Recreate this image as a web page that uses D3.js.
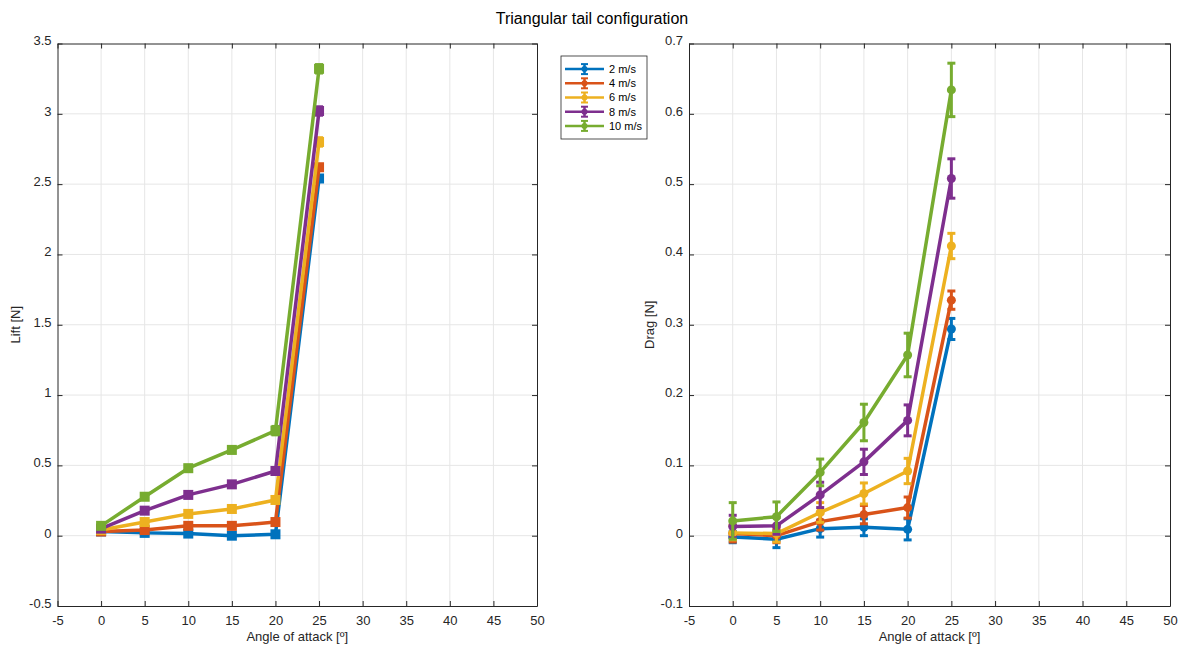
<!DOCTYPE html>
<html>
<head>
<meta charset="utf-8">
<script src="https://cdn.jsdelivr.net/npm/d3@7"></script>
<style>
  body { margin: 0; background: #fff; }
  svg { font-family: "Liberation Sans", Arial, sans-serif; }
</style>
</head>
<body>
<div id="chart"></div>
<script>
const angles = [0, 5, 10, 15, 20, 25];
const speeds = ["2 m/s", "4 m/s", "6 m/s", "8 m/s", "10 m/s"];
const colors = ["#0072BD", "#D95319", "#EDB120", "#7E2F8E", "#77AC30"];

const liftMean = [
    [0.03, 0.02, 0.015, 0.0, 0.01, 2.54],
    [0.03, 0.04, 0.07, 0.07, 0.097, 2.62],
    [0.04, 0.097, 0.155, 0.19, 0.254, 2.80],
    [0.05, 0.178, 0.29, 0.365, 0.46, 3.02],
    [0.07, 0.277, 0.48, 0.61, 0.747, 3.32]
];
const liftErr = [
    [0.01, 0.01, 0.01, 0.01, 0.02, 0.02],
    [0.01, 0.01, 0.01, 0.01, 0.02, 0.02],
    [0.01, 0.01, 0.01, 0.01, 0.02, 0.03],
    [0.01, 0.01, 0.01, 0.01, 0.02, 0.03],
    [0.02, 0.02, 0.02, 0.02, 0.03, 0.03]
];
const dragMean = [
    [-0.002, -0.005, 0.01, 0.012, 0.009, 0.294],
    [0.003, 0.0, 0.02, 0.03, 0.04, 0.335],
    [0.004, 0.003, 0.033, 0.06, 0.092, 0.412],
    [0.013, 0.014, 0.058, 0.105, 0.164, 0.508],
    [0.021, 0.027, 0.09, 0.161, 0.257, 0.634]
];
const dragErr = [
    [0.008, 0.012, 0.012, 0.012, 0.015, 0.015],
    [0.012, 0.01, 0.012, 0.013, 0.015, 0.013],
    [0.01, 0.012, 0.014, 0.015, 0.018, 0.018],
    [0.016, 0.012, 0.018, 0.018, 0.022, 0.028],
    [0.026, 0.021, 0.019, 0.026, 0.031, 0.038]
];

const xTicks = [-5, 0, 5, 10, 15, 20, 25, 30, 35, 40, 45, 50];
const liftTicks = [-0.5, 0, 0.5, 1, 1.5, 2, 2.5, 3, 3.5];
const dragTicks = [-0.1, 0, 0.1, 0.2, 0.3, 0.4, 0.5, 0.6, 0.7];

const width = 1185;
const height = 646;
const axisColor = "#262626";
const gridColor = "#e6e6e6";

const svg = d3.select("#chart").append("svg")
    .attr("width", width)
    .attr("height", height);

svg.append("text")
    .attr("x", 592)
    .attr("y", 24)
    .attr("text-anchor", "middle")
    .style("font-size", "16px")
    .attr("fill", "#000")
    .text("Triangular tail configuration");

function drawPanel(opts) {
    const { left, right, top, bottom, yTicks, means, errs, marker, yLabel, yLabelX } = opts;

    const x = d3.scaleLinear().domain([-5, 50]).range([left, right]);
    const y = d3.scaleLinear().domain([yTicks[0], yTicks[yTicks.length - 1]]).range([bottom, top]);

    const g = svg.append("g");

    // grid
    g.append("g").selectAll("line")
        .data(xTicks.slice(1, -1))
        .enter().append("line")
        .attr("x1", d => x(d)).attr("x2", d => x(d))
        .attr("y1", top).attr("y2", bottom)
        .attr("stroke", gridColor).attr("stroke-width", 1);
    g.append("g").selectAll("line")
        .data(yTicks.slice(1, -1))
        .enter().append("line")
        .attr("x1", left).attr("x2", right)
        .attr("y1", d => y(d)).attr("y2", d => y(d))
        .attr("stroke", gridColor).attr("stroke-width", 1);

    // axes (MATLAB style: ticks inside, box)
    const xAxisB = g.append("g")
        .attr("transform", `translate(0,${bottom})`)
        .call(d3.axisBottom(x).tickValues(xTicks).tickSizeInner(-5).tickSizeOuter(0).tickPadding(10)
            .tickFormat(d => String(d)));
    const xAxisT = g.append("g")
        .attr("transform", `translate(0,${top})`)
        .call(d3.axisTop(x).tickValues(xTicks).tickSizeInner(-5).tickSizeOuter(0).tickFormat(""));
    const yAxisL = g.append("g")
        .attr("transform", `translate(${left},0)`)
        .call(d3.axisLeft(y).tickValues(yTicks).tickSizeInner(-5).tickSizeOuter(0).tickPadding(6)
            .tickFormat(d => String(d)));
    const yAxisR = g.append("g")
        .attr("transform", `translate(${right},0)`)
        .call(d3.axisRight(y).tickValues(yTicks).tickSizeInner(-5).tickSizeOuter(0).tickFormat(""));

    [xAxisB, xAxisT, yAxisL, yAxisR].forEach(a => {
        a.select(".domain").attr("stroke", axisColor).attr("stroke-width", 1);
        a.selectAll(".tick line").attr("stroke", axisColor);
        a.selectAll("text").attr("fill", axisColor).style("font-size", "13px")
            .style("font-family", "'Liberation Sans', Arial, sans-serif");
    });
    yAxisL.selectAll(".tick text").attr("dy", "0.1em");

    g.append("text")
        .attr("x", (left + right) / 2)
        .attr("y", 641)
        .attr("text-anchor", "middle")
        .attr("fill", axisColor)
        .style("font-size", "13px")
        .text("Angle of attack [º]");

    g.append("text")
        .attr("transform", `translate(${yLabelX},${(top + bottom) / 2}) rotate(-90)`)
        .attr("text-anchor", "middle")
        .attr("fill", axisColor)
        .style("font-size", "13px")
        .text(yLabel);

    const line = d3.line().x(d => x(d.a)).y(d => y(d.v));

    speeds.forEach((s, i) => {
        const pts = angles.map((a, j) => ({ a, v: means[i][j], e: errs[i][j] }));
        const sg = g.append("g").attr("class", "series");

        sg.append("path")
            .datum(pts)
            .attr("d", line)
            .attr("fill", "none")
            .attr("stroke", colors[i])
            .attr("stroke-width", 3.5)
            .attr("stroke-linejoin", "round");

        // error bars
        const eb = sg.append("g").selectAll("g")
            .data(pts)
            .enter().append("g");
        eb.append("line")
            .attr("x1", d => x(d.a)).attr("x2", d => x(d.a))
            .attr("y1", d => y(d.v - d.e)).attr("y2", d => y(d.v + d.e))
            .attr("stroke", colors[i]).attr("stroke-width", 3);
        eb.append("line")
            .attr("x1", d => x(d.a) - 4).attr("x2", d => x(d.a) + 4)
            .attr("y1", d => y(d.v - d.e)).attr("y2", d => y(d.v - d.e))
            .attr("stroke", colors[i]).attr("stroke-width", 3);
        eb.append("line")
            .attr("x1", d => x(d.a) - 4).attr("x2", d => x(d.a) + 4)
            .attr("y1", d => y(d.v + d.e)).attr("y2", d => y(d.v + d.e))
            .attr("stroke", colors[i]).attr("stroke-width", 3);

        if (marker === "square") {
            sg.append("g").selectAll("rect")
                .data(pts)
                .enter().append("rect")
                .attr("x", d => x(d.a) - 5)
                .attr("y", d => y(d.v) - 5)
                .attr("width", 10).attr("height", 10)
                .attr("fill", colors[i]);
        } else {
            sg.append("g").selectAll("circle")
                .data(pts)
                .enter().append("circle")
                .attr("cx", d => x(d.a))
                .attr("cy", d => y(d.v))
                .attr("r", 4.5)
                .attr("fill", colors[i]);
        }
    });
}

drawPanel({
    left: 57.5, right: 537, top: 43.5, bottom: 606,
    yTicks: liftTicks, means: liftMean, errs: liftErr,
    marker: "square", yLabel: "Lift [N]", yLabelX: 20
});

drawPanel({
    left: 689, right: 1170, top: 43.5, bottom: 606,
    yTicks: dragTicks, means: dragMean, errs: dragErr,
    marker: "circle", yLabel: "Drag [N]", yLabelX: 654
});

// legend
const legend = svg.append("g").attr("transform", "translate(561,56)");
legend.append("rect")
    .attr("width", 86).attr("height", 83)
    .attr("fill", "#fff")
    .attr("stroke", axisColor).attr("stroke-width", 0.8);

const legendRow = d3.scaleBand().domain(speeds).range([6, 77]);

speeds.forEach((s, i) => {
    const cy = legendRow(s) + legendRow.bandwidth() / 2;
    const item = legend.append("g");
    item.append("line")
        .attr("x1", 4).attr("x2", 43).attr("y1", cy).attr("y2", cy)
        .attr("stroke", colors[i]).attr("stroke-width", 2.5);
    item.append("line")
        .attr("x1", 23.5).attr("x2", 23.5).attr("y1", cy - 5).attr("y2", cy + 5)
        .attr("stroke", colors[i]).attr("stroke-width", 2.5);
    item.append("line")
        .attr("x1", 20).attr("x2", 27).attr("y1", cy - 5).attr("y2", cy - 5)
        .attr("stroke", colors[i]).attr("stroke-width", 2);
    item.append("line")
        .attr("x1", 20).attr("x2", 27).attr("y1", cy + 5).attr("y2", cy + 5)
        .attr("stroke", colors[i]).attr("stroke-width", 2);
    item.append("circle")
        .attr("cx", 23.5).attr("cy", cy).attr("r", 3)
        .attr("fill", colors[i]);
    item.append("text")
        .attr("x", 48).attr("y", cy)
        .attr("dy", "0.35em")
        .attr("fill", "#000")
        .style("font-size", "11px")
        .text(s);
});
</script>
</body>
</html>
